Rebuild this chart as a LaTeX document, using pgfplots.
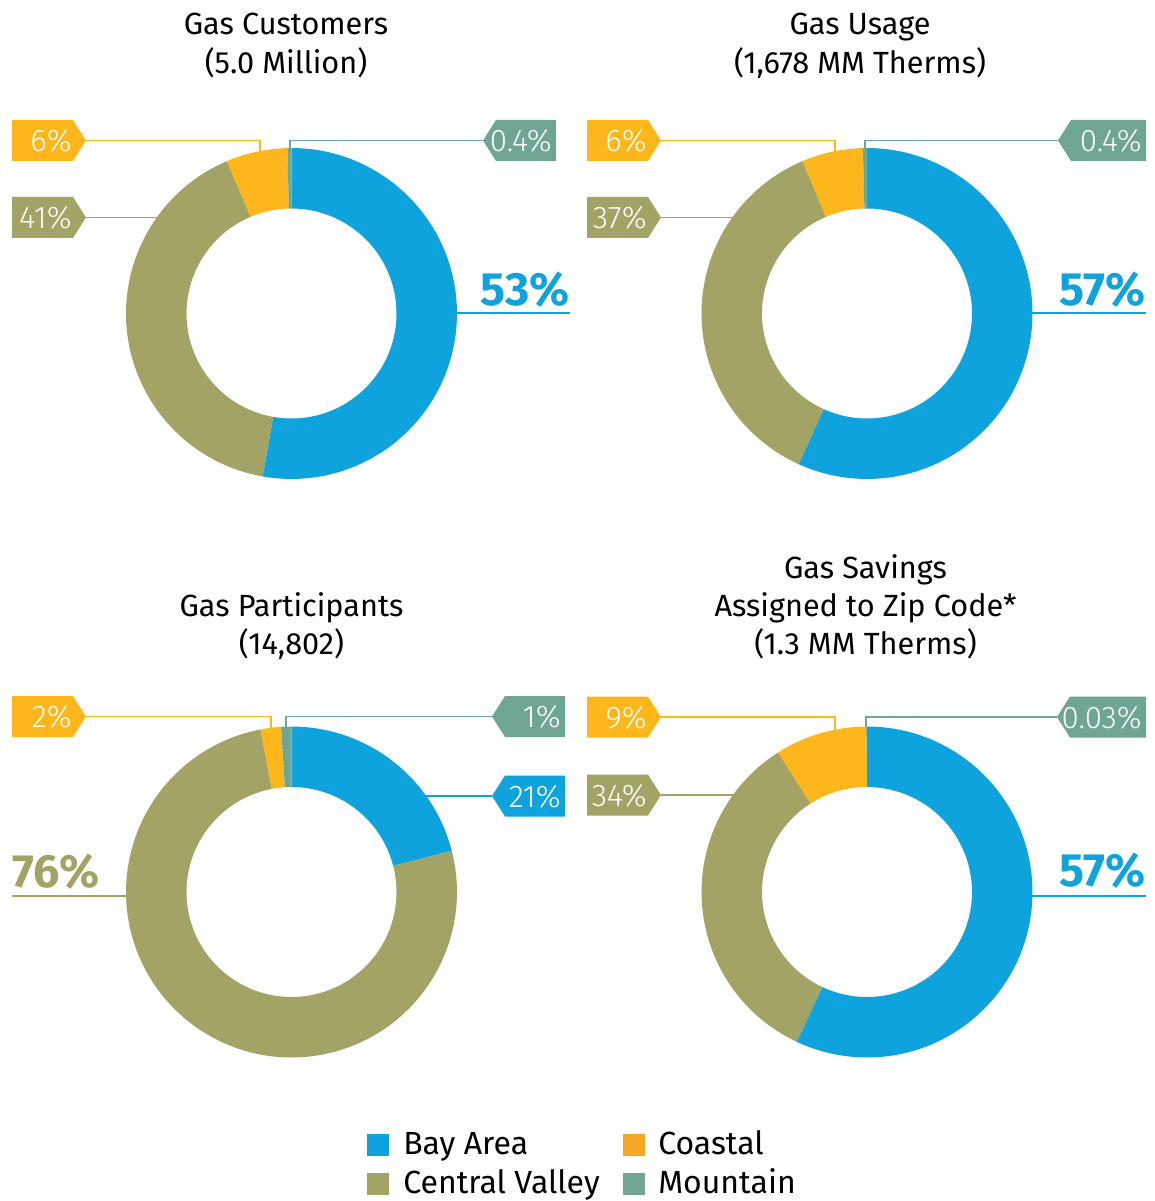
\documentclass[border=0pt]{standalone}
\usepackage{fontspec}
\setmainfont{Fira Sans Light}[BoldFont={Fira Sans Bold}]
\newfontfamily\regfont{Fira Sans}
\usepackage{pgfplots}
\pgfplotsset{compat=1.18}

\definecolor{bay}{HTML}{0EA3DC}
\definecolor{central}{HTML}{A3A365}
\definecolor{coastal}{HTML}{FDB71A}
\definecolor{mountain}{HTML}{6FA693}
\definecolor{legcoastal}{HTML}{F5A623}

% 1 px of the reference = 0.75pt
\newcommand\Ro{124.1pt}
\newcommand\Ri{78.75pt}
\newcommand\Rw{45.35pt}
\newcommand\titlefont{\regfont\fontsize{23}{26}\selectfont}
\newcommand\tagfont{\fontsize{23.5}{26}\selectfont}
\newcommand\bigfont{\fontsize{35}{40}\selectfont\bfseries}
\newcommand\legfont{\regfont\fontsize{24}{28}\selectfont}

% one ring segment: cx, cy, from, to, total, colour
\newcommand\seg[6]{%
  \fill[#6] (axis cs:#1,#2) ++({90-360*((#3)/(#5))}:\Ro)
    arc[start angle={90-360*((#3)/(#5))}, end angle={90-360*((#4)/(#5))}, radius=\Ro]
    -- ++({270-360*((#4)/(#5))}:\Rw)
    arc[start angle={90-360*((#4)/(#5))}, end angle={90-360*((#3)/(#5))}, radius=\Ri]
    -- cycle;}
% donut: cx, cy, bay area, central valley, coastal, mountain
\newcommand\donut[6]{%
  \seg{#1}{#2}{0}{#3}{#3+#4+#5+#6}{bay}
  \seg{#1}{#2}{#3}{#3+#4}{#3+#4+#5+#6}{central}
  \seg{#1}{#2}{#3+#4}{#3+#4+#5}{#3+#4+#5+#6}{coastal}
  \seg{#1}{#2}{#3+#4+#5}{#3+#4+#5+#6}{#3+#4+#5+#6}{mountain}}
% tag pointing right: xleft, xpoint, y, colour, text
\newcommand\tagL[5]{%
  \fill[#4] (axis cs:#1,{#3-20.5}) -- (axis cs:{#2-13},{#3-20.5}) -- (axis cs:#2,#3)
    -- (axis cs:{#2-13},{#3+20.5}) -- (axis cs:#1,{#3+20.5}) -- cycle;
  \node[anchor=base east, text=white, font=\tagfont, inner sep=0pt]
    at (axis cs:{#2-14},{#3+11}) {#5};}
% tag pointing left: xpoint, xright, y, colour, text
\newcommand\tagR[5]{%
  \fill[#4] (axis cs:#1,#3) -- (axis cs:{#1+13},{#3-20.5}) -- (axis cs:#2,{#3-20.5})
    -- (axis cs:#2,{#3+20.5}) -- (axis cs:{#1+13},{#3+20.5}) -- cycle;
  \node[anchor=base east, text=white, font=\tagfont, inner sep=0pt]
    at (axis cs:{#2-4},{#3+11}) {#5};}

\begin{document}
\begin{tikzpicture}
\begin{axis}[
    x=0.75pt, y=0.75pt,
    xmin=0, xmax=1154, ymin=0, ymax=1201,
    y dir=reverse,
    axis lines=none, clip=false
]
\path (axis cs:0,0) (axis cs:1154,1201);

% titles
\node[anchor=base, font=\titlefont] at (axis cs:286,35) {Gas Customers};
\node[anchor=base, font=\titlefont] at (axis cs:286,74) {(5.0 Million)};
\node[anchor=base, font=\titlefont] at (axis cs:860,35) {Gas Usage};
\node[anchor=base, font=\titlefont] at (axis cs:860,74) {(1,678 MM Therms)};
\node[anchor=base, font=\titlefont] at (axis cs:291.5,616) {Gas Participants};
\node[anchor=base, font=\titlefont] at (axis cs:291.5,654) {(14,802)};
\node[anchor=base, font=\titlefont] at (axis cs:865.5,578) {Gas Savings};
\node[anchor=base, font=\titlefont] at (axis cs:865.5,616) {Assigned to Zip Code*};
\node[anchor=base, font=\titlefont] at (axis cs:865.5,654) {(1.3 MM Therms)};

% leader lines
\draw[coastal, line width=1pt] (axis cs:86,140.5) -- (axis cs:260,140.5) -- (axis cs:260,158);
\draw[mountain, line width=1pt] (axis cs:483,140.5) -- (axis cs:290,140.5) -- (axis cs:290,158);
\draw[central, line width=1pt] (axis cs:86,217.5) -- (axis cs:175,217.5);
\draw[bay, line width=1pt] (axis cs:445,313) -- (axis cs:570,313);

\draw[coastal, line width=1pt] (axis cs:661,140.5) -- (axis cs:835,140.5) -- (axis cs:835,160);
\draw[mountain, line width=1pt] (axis cs:1058,140.5) -- (axis cs:865,140.5) -- (axis cs:865,158);
\draw[central, line width=1pt] (axis cs:661,217.5) -- (axis cs:750,217.5);
\draw[bay, line width=1pt] (axis cs:1020,313) -- (axis cs:1146,313);

\draw[coastal, line width=1pt] (axis cs:86,716.5) -- (axis cs:271,716.5) -- (axis cs:271,736);
\draw[mountain, line width=1pt] (axis cs:492,716.5) -- (axis cs:286,716.5) -- (axis cs:286,736);
\draw[bay, line width=1pt] (axis cs:492,796) -- (axis cs:410,796);
\draw[central, line width=1pt] (axis cs:12,896) -- (axis cs:140,896);

\draw[coastal, line width=1pt] (axis cs:661,717) -- (axis cs:835,717) -- (axis cs:835,740);
\draw[mountain, line width=1pt] (axis cs:1057,717) -- (axis cs:866,717) -- (axis cs:866,736);
\draw[central, line width=1pt] (axis cs:661,795) -- (axis cs:750,795);
\draw[bay, line width=1pt] (axis cs:1020,896) -- (axis cs:1146,896);

% donuts: bay area, central valley, coastal, mountain (percent)
\donut{291.5}{313.5}{53}{41}{6}{0.4}
\donut{867}{313.5}{57}{37}{6}{0.4}
\donut{291.5}{892}{21}{76}{2}{1}
\donut{867}{892}{57}{34}{9}{0.03}

% tags
\tagL{12}{86}{140.5}{coastal}{6\%}
\tagL{12}{86}{217.5}{central}{41\%}
\tagR{483}{556}{140.5}{mountain}{0.4\%}
\tagL{587}{661}{140.5}{coastal}{6\%}
\tagL{587}{661}{217.5}{central}{37\%}
\tagR{1058}{1146}{140.5}{mountain}{0.4\%}
\tagL{12}{86}{716.5}{coastal}{2\%}
\tagR{492}{565}{716.5}{mountain}{1\%}
\tagR{492}{565}{796}{bay}{21\%}
\tagL{587}{661}{717}{coastal}{9\%}
\tagL{587}{661}{795}{central}{34\%}
\tagR{1057}{1146}{717}{mountain}{0.03\%}

% large labels
\node[anchor=base east, text=bay, font=\bigfont, inner sep=0pt] at (axis cs:570,306) {53\%};
\node[anchor=base east, text=bay, font=\bigfont, inner sep=0pt] at (axis cs:1146,306) {57\%};
\node[anchor=base west, text=central, font=\bigfont, inner sep=0pt] at (axis cs:12,887) {76\%};
\node[anchor=base east, text=bay, font=\bigfont, inner sep=0pt] at (axis cs:1146,886) {57\%};

% legend
\fill[bay] (axis cs:367,1134) rectangle (axis cs:389,1156);
\fill[legcoastal] (axis cs:623,1134) rectangle (axis cs:645,1156);
\fill[central] (axis cs:367,1173) rectangle (axis cs:389,1195);
\fill[mountain] (axis cs:623,1173) rectangle (axis cs:645,1195);
\node[anchor=base west, font=\legfont, inner sep=0pt] at (axis cs:403,1154) {Bay Area};
\node[anchor=base west, font=\legfont, inner sep=0pt] at (axis cs:658,1154) {Coastal};
\node[anchor=base west, font=\legfont, inner sep=0pt] at (axis cs:403,1193) {Central Valley};
\node[anchor=base west, font=\legfont, inner sep=0pt] at (axis cs:658,1193) {Mountain};
\end{axis}
\end{tikzpicture}
\end{document}
